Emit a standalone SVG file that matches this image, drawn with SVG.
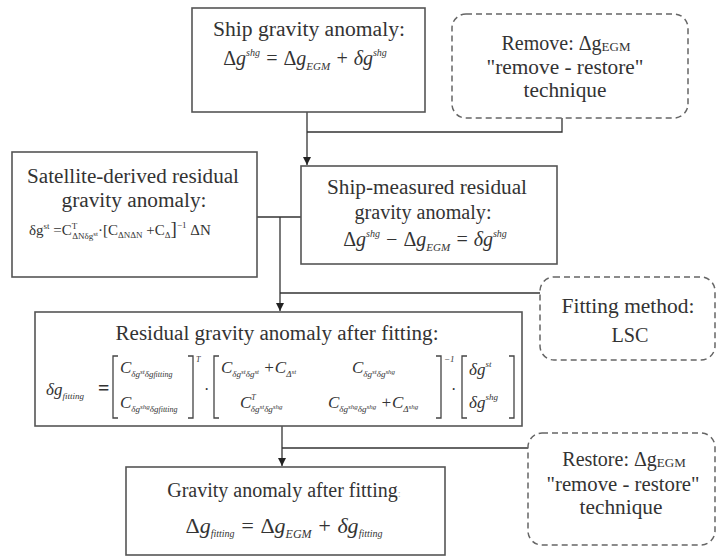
<svg xmlns="http://www.w3.org/2000/svg" width="717" height="558" viewBox="0 0 717 558">
<defs>
<style>
.box{fill:#fff;stroke:#555;stroke-width:1.6}
.dbox{fill:#fff;stroke:#666;stroke-width:1.5;stroke-dasharray:6 4}
.ln{fill:none;stroke:#333;stroke-width:1.3}
text{font-family:'Liberation Serif','Times New Roman',serif;fill:#333}
.t{font-size:20px;text-anchor:middle}
.m{font-style:italic}
.up{font-style:normal}
.br{fill:none;stroke:#444;stroke-width:1.3}
</style>
<marker id="arr" markerUnits="userSpaceOnUse" markerWidth="8" markerHeight="8" refX="8" refY="4" orient="auto">
<path d="M0,0 L8,4 L0,8 z" fill="#222"/>
</marker>
</defs>

<g id="connectors">
<path class="ln" d="M307,112 V165" marker-end="url(#arr)"/>
<path class="ln" d="M562,118 V132 H307"/>
<path class="ln" d="M257,217 H301"/>
<path class="ln" d="M280,217 V311" marker-end="url(#arr)"/>
<path class="ln" d="M540,293 H280"/>
<path class="ln" d="M282,426 V466" marker-end="url(#arr)"/>
<path class="ln" d="M528,448 H282"/>
</g>

<g id="ship-gravity">
<rect class="box" x="192" y="8" width="233" height="104"/>
<text class="t" x="309" y="36" textLength="192" lengthAdjust="spacingAndGlyphs">Ship gravity anomaly:</text>
<text class="m" x="305" y="65" font-size="20" text-anchor="middle"><tspan class="up">Δ</tspan>g<tspan font-size="10" dy="-9">shg</tspan><tspan dy="9"> = </tspan><tspan class="up">Δ</tspan>g<tspan font-size="11" dy="5">EGM</tspan><tspan dy="-5"> + δg</tspan><tspan font-size="10" dy="-9">shg</tspan></text>
</g>

<g id="remove">
<rect class="dbox" x="452" y="14" width="236" height="104" rx="14"/>
<text class="t" x="566" y="50">Remove: Δg<tspan font-size="13" dy="1">EGM</tspan></text>
<text class="t" x="565" y="74" textLength="157" lengthAdjust="spacingAndGlyphs">"remove - restore"</text>
<text class="t" x="565" y="97" textLength="83" lengthAdjust="spacingAndGlyphs">technique</text>
</g>

<g id="satellite">
<rect class="box" x="12" y="152" width="245" height="125"/>
<text class="t" x="133" y="183" textLength="212" lengthAdjust="spacingAndGlyphs">Satellite-derived residual</text>
<text class="t" x="134" y="207" textLength="145" lengthAdjust="spacingAndGlyphs">gravity anomaly:</text>
<text x="29" y="235" font-size="15">δg<tspan font-size="9" dy="-6">st</tspan><tspan dy="6"> =C</tspan><tspan font-size="9" dy="-6">T</tspan><tspan font-size="9" dx="-5" dy="10">ΔNδg</tspan><tspan font-size="7" dy="-3">st</tspan><tspan dy="-1">·[C</tspan><tspan font-size="9" dy="3">ΔNΔN</tspan><tspan dy="-3"> +C</tspan><tspan font-size="9" dy="3">Δ</tspan><tspan font-size="19" dy="-3">]</tspan><tspan font-size="9" dy="-7">−1</tspan><tspan dy="7"> ΔN</tspan></text>
</g>

<g id="ship-measured">
<rect class="box" x="301" y="166" width="256" height="98"/>
<text class="t" x="427" y="194" textLength="200" lengthAdjust="spacingAndGlyphs">Ship-measured residual</text>
<text class="t" x="423" y="219" textLength="137" lengthAdjust="spacingAndGlyphs">gravity anomaly:</text>
<text class="m" x="425" y="246" font-size="20" text-anchor="middle"><tspan class="up">Δ</tspan>g<tspan font-size="10" dy="-9">shg</tspan><tspan dy="9"> − </tspan><tspan class="up">Δ</tspan>g<tspan font-size="11" dy="5">EGM</tspan><tspan dy="-5"> = δg</tspan><tspan font-size="10" dy="-9">shg</tspan></text>
</g>

<g id="fitting-method">
<rect class="dbox" x="540" y="277" width="175" height="83" rx="14"/>
<text class="t" x="628" y="313" textLength="133" lengthAdjust="spacingAndGlyphs">Fitting method:</text>
<text class="t" x="630" y="342" textLength="37" lengthAdjust="spacingAndGlyphs">LSC</text>
</g>

<g id="residual-fitting">
<rect class="box" x="35" y="312" width="487" height="114"/>
<text class="t" x="277" y="340" textLength="323" lengthAdjust="spacingAndGlyphs">Residual gravity anomaly after fitting:</text>
<text class="m" x="46" y="395" font-size="17">δg<tspan font-size="9" dy="4">fitting</tspan></text>
<text x="98" y="395" font-size="20" font-weight="bold">=</text>
<path class="br" d="M118,356 H113 V418 H118"/>
<path class="br" d="M188,356 H193 V418 H188"/>
<text class="m" x="196" y="362" font-size="8">T</text>
<text x="204" y="395" font-size="16">·</text>
<text class="m" x="120" y="373" font-size="17">C<tspan font-size="9" dy="4">δg</tspan><tspan font-size="7" dy="-3">st</tspan><tspan font-size="9" dy="3">δg</tspan><tspan font-size="8">fitting</tspan></text>
<text class="m" x="120" y="408" font-size="17">C<tspan font-size="9" dy="4">δg</tspan><tspan font-size="7" dy="-3">shg</tspan><tspan font-size="9" dy="3">δg</tspan><tspan font-size="8">fitting</tspan></text>
<path class="br" d="M219,356 H214 V418 H219"/>
<path class="br" d="M436,356 H441 V418 H436"/>
<text class="m" x="444" y="362" font-size="9">−1</text>
<text x="451" y="395" font-size="16">·</text>
<text class="m" x="221" y="373" font-size="17">C<tspan font-size="9" dy="4">δg</tspan><tspan font-size="7" dy="-3">st</tspan><tspan font-size="9" dy="3">δg</tspan><tspan font-size="7" dy="-3">st</tspan><tspan dy="-1"> +C</tspan><tspan font-size="9" dy="4">Δ</tspan><tspan font-size="7" dy="-3">st</tspan></text>
<text class="m" x="352" y="373" font-size="17">C<tspan font-size="9" dy="4">δg</tspan><tspan font-size="7" dy="-3">st</tspan><tspan font-size="9" dy="3">δg</tspan><tspan font-size="7" dy="-3">shg</tspan></text>
<text class="m" x="240" y="408" font-size="17">C<tspan font-size="8" dy="-8">T</tspan><tspan font-size="9" dx="-5" dy="12">δg</tspan><tspan font-size="7" dy="-3">st</tspan><tspan font-size="9" dy="3">δg</tspan><tspan font-size="7" dy="-3">shg</tspan></text>
<text class="m" x="328" y="408" font-size="17">C<tspan font-size="9" dy="4">δg</tspan><tspan font-size="7" dy="-3">shg</tspan><tspan font-size="9" dy="3">δg</tspan><tspan font-size="7" dy="-3">shg</tspan><tspan dy="-1"> +C</tspan><tspan font-size="9" dy="4">Δ</tspan><tspan font-size="7" dy="-3">shg</tspan></text>
<path class="br" d="M467,356 H462 V418 H467"/>
<path class="br" d="M509,356 H514 V418 H509"/>
<text class="m" x="469" y="375" font-size="17">δg<tspan font-size="9" dy="-8">st</tspan></text>
<text class="m" x="469" y="408" font-size="17">δg<tspan font-size="9" dy="-8">shg</tspan></text>
</g>

<g id="restore">
<rect class="dbox" x="528" y="433" width="187" height="112" rx="14"/>
<text class="t" x="624" y="466">Restore: Δg<tspan font-size="13" dy="1">EGM</tspan></text>
<text class="t" x="623" y="491" textLength="153" lengthAdjust="spacingAndGlyphs">"remove - restore"</text>
<text class="t" x="621" y="514" textLength="83" lengthAdjust="spacingAndGlyphs">technique</text>
</g>

<g id="gravity-after-fitting">
<rect class="box" x="126" y="467" width="319" height="88"/>
<text class="t" x="284" y="497">Gravity anomaly after fitting<tspan fill="#bbb" font-size="11">:</tspan></text>
<text class="m" x="284" y="533" font-size="22" text-anchor="middle"><tspan class="up">Δ</tspan>g<tspan font-size="10" dy="4">fitting</tspan><tspan dy="-4"> = </tspan><tspan class="up">Δ</tspan>g<tspan font-size="12" dy="5">EGM</tspan><tspan dy="-5"> + δg</tspan><tspan font-size="10" dy="4">fitting</tspan></text>
</g>
</svg>
